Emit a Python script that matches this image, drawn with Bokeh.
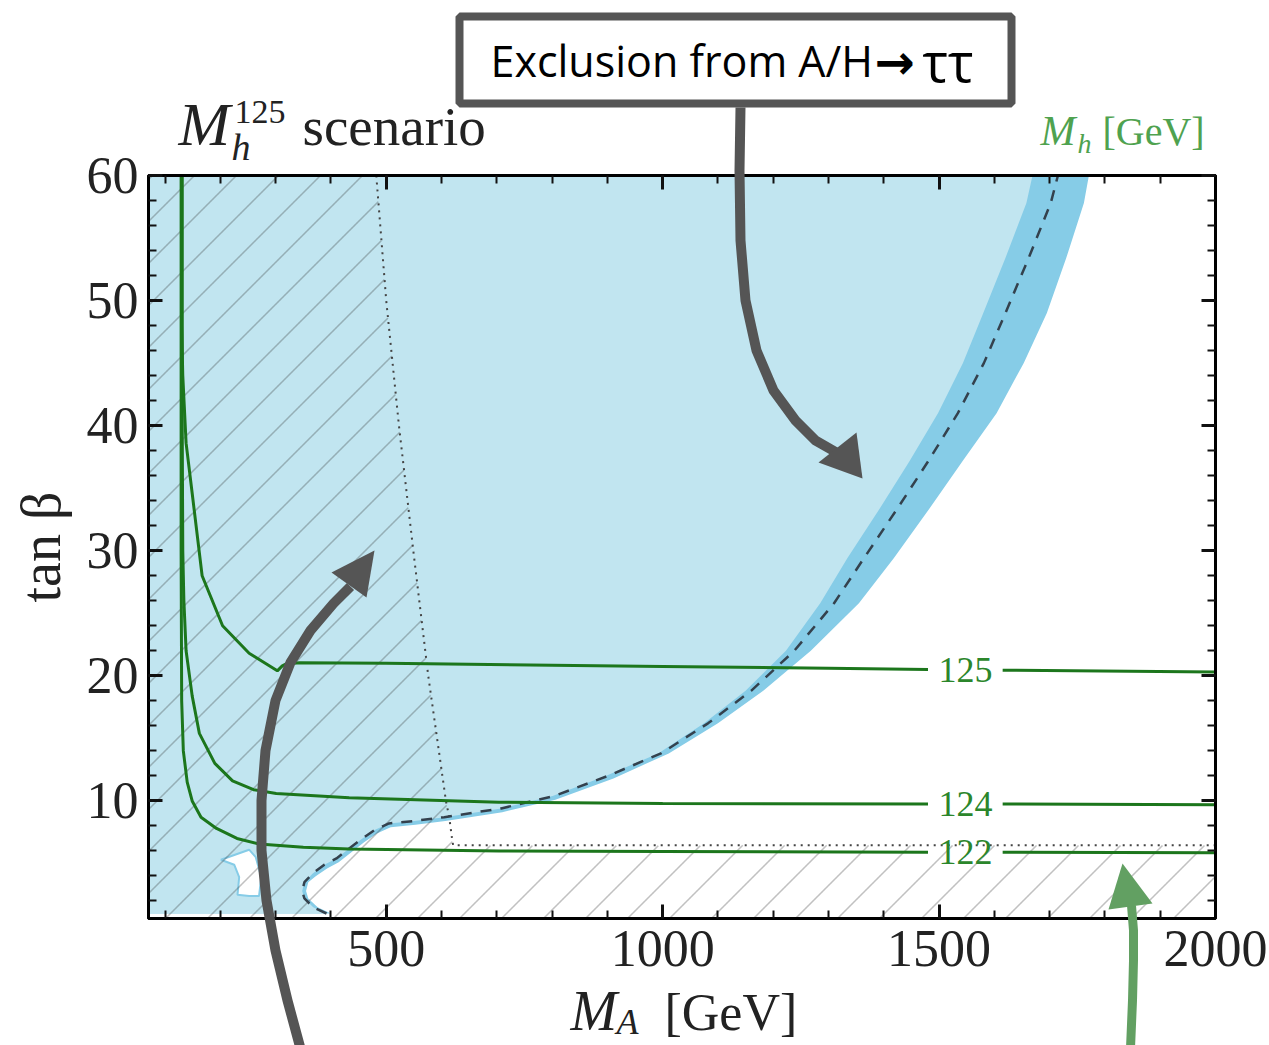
import numpy as np
from bokeh.plotting import figure
from bokeh.models import Label, LinearAxis, SingleIntervalTicker, Range1d, CustomJSTickFormatter
from bokeh.layouts import column
from bokeh.core.properties import value
from bokeh.embed import file_html
from bokeh.resources import INLINE

# ---------------- data ----------------
# observed exclusion boundary (light blue edge)
obs_ma = [392, 368, 352, 348, 352, 367, 388, 410, 433, 457, 480, 505, 551, 605, 708, 801, 897, 992,
          1075, 1150, 1223, 1285, 1334, 1393, 1447, 1498, 1543, 1580, 1620, 1658, 1669]
obs_tb = [1.0, 1.5, 2.2, 2.8, 3.5, 4.2, 4.9, 5.4, 6.2, 7.0, 7.7, 8.2, 8.4, 8.7, 9.4, 10.4, 12.0, 13.8,
          16.2, 18.8, 22.0, 25.8, 29.4, 33.4, 37.2, 41.0, 45.0, 49.0, 53.4, 57.8, 60.0]
# expected exclusion (dashed line)
exp_ma = [392, 368, 352, 348, 352, 367, 388, 410, 433, 457, 480, 505, 551, 605, 708, 804, 901, 997,
          1082, 1160, 1238, 1310, 1364, 1425, 1481, 1534, 1581, 1620, 1662, 1702, 1715]
exp_tb = obs_tb
# outer edge of the expected band (darker blue)
band_ma = [400, 376, 359, 355, 359, 373, 393, 414, 437, 460, 483, 508, 553, 607, 710, 806, 911, 1011,
           1100, 1182, 1268, 1355, 1418, 1483, 1543, 1604, 1653, 1695, 1730, 1762, 1771]
band_tb = [1.0, 1.5, 2.2, 2.8, 3.5, 4.0, 4.6, 5.1, 5.9, 6.7, 7.4, 7.9, 8.1, 8.4, 9.1, 10.1, 11.8, 13.8,
           16.2, 18.8, 22.0, 25.8, 29.4, 33.4, 37.2, 41.0, 45.0, 49.0, 53.4, 57.8, 60.0]
# small allowed island at low MA
isl_ma = [201, 252, 264, 274, 270, 252, 231, 234, 225]
isl_tb = [5.3, 6.1, 5.5, 3.9, 2.4, 2.4, 2.5, 3.9, 4.9]
# boundary of the hatched (theoretically excluded) region, dotted line
dot_ma = [482, 500, 523, 549, 576, 608, 614, 619, 621, 2000]
dot_tb = [60, 50, 40, 30, 20, 10, 8.7, 7.0, 6.45, 6.45]
# Mh contours
c125_ma = [130, 130, 132, 138, 149, 167, 204, 252, 303, 312, 319, 343, 500, 800, 1000, 1300, 1480, 1615, 2000]
c125_tb = [60, 48, 44, 38.6, 34.6, 28, 24, 21.8, 20.4, 20.8, 20.95, 21.05, 21.0, 20.85, 20.75, 20.6, 20.5, 20.45, 20.3]
c124_ma = [131, 131, 132, 134, 138, 149, 162, 190, 222, 260, 301, 433, 704, 1000, 1480, 1615, 2000]
c124_tb = [60, 40, 30, 26, 22, 18.4, 15.4, 13.0, 11.6, 10.9, 10.6, 10.25, 9.9, 9.8, 9.75, 9.75, 9.7]
c122_ma = [129, 129, 130, 133, 140, 149, 165, 193, 230, 270, 350, 433, 704, 1000, 1480, 1615, 2000]
c122_tb = [60, 30, 18, 14, 11.5, 10, 8.7, 7.8, 7.0, 6.55, 6.3, 6.15, 6.0, 5.95, 5.9, 5.9, 5.85]
contour_labels = ["125", "124", "122"]
label_ma = [1548, 1548, 1548]
label_tb = [20.5, 9.75, 5.9]
label_gap = (1485, 1611)

X0, X1, Y0, Y1 = 70, 2000, 0.6, 60
W, H = 1269, 1045
FL, FR, FT, FB = 148, 1215, 175, 918

SERIF = "Liberation Serif"
LIGHT = "#c1e5f0"
DARK = "#86cce7"
GREEN = "#1c761c"
LGREEN = "#4fa24f"
GRAY = "#555555"

p = figure(width=W, height=H, x_range=Range1d(X0, X1), y_range=Range1d(Y0, Y1),
           output_backend="svg", toolbar_location=None,
           min_border_left=FL, min_border_right=W - FR, min_border_top=FT, min_border_bottom=H - FB)
p.grid.visible = False
p.outline_line_color = "black"
p.outline_line_width = 3
p.background_fill_color = "white"
p.border_fill_color = "white"


def style_axis(a, labels=True):
    a.axis_line_color = "black"
    a.axis_line_width = 3
    a.major_tick_in = 14
    a.major_tick_out = 0
    a.minor_tick_in = 8
    a.minor_tick_out = 0
    a.major_tick_line_color = "#111111"
    a.minor_tick_line_color = "#111111"
    a.major_tick_line_width = 3
    a.minor_tick_line_width = 2
    a.major_label_text_font = SERIF
    a.major_label_text_color = "#222222"
    a.major_label_text_font_size = "52px"
    if not labels:
        a.formatter = CustomJSTickFormatter(code="return ''")
        a.major_label_standoff = 0


p.xaxis.ticker = SingleIntervalTicker(interval=500, num_minor_ticks=5)
p.yaxis.ticker = SingleIntervalTicker(interval=10, num_minor_ticks=5)
for a in p.xaxis:
    style_axis(a)
    a.major_label_standoff = 12
for a in p.yaxis:
    style_axis(a)
    a.major_label_standoff = 10
    a.axis_label = "tan β"
    a.axis_label_text_font = SERIF
    a.axis_label_text_font_style = "normal"
    a.axis_label_text_font_size = "56px"
    a.axis_label_text_color = "#222222"
    a.axis_label_standoff = 12

top = LinearAxis(ticker=SingleIntervalTicker(interval=500, num_minor_ticks=5))
style_axis(top, labels=False)
p.add_layout(top, "above")
right = LinearAxis(ticker=SingleIntervalTicker(interval=10, num_minor_ticks=5))
style_axis(right, labels=False)
p.add_layout(right, "right")

# exclusion regions
p.patch([X0] + band_ma + [X0], [obs_tb[0]] + band_tb + [Y1], fill_color=DARK, line_color=None)
p.patch([X0] + obs_ma + [X0], [obs_tb[0]] + obs_tb + [Y1], fill_color=LIGHT, line_color=None)
p.patch(isl_ma, isl_tb, fill_color="white", line_color=DARK, line_width=2)

# hatched region: 45-degree lines (in screen space) clipped to the region left of / below the dotted line
pxx = (FR - FL) / (X1 - X0)
pxy = (FB - FT) / (Y1 - Y0)
slope = pxx / pxy
step_c = 42 / pxx * slope
bd_tb = np.array(dot_tb[::-1][1:], float)
bd_ma = np.array(dot_ma[::-1][1:], float)
ms = np.linspace(X0, X1, 3000)
hx, hy = [], []
c = Y0 - slope * (X1 - X0)
while c < Y1:
    tbs = c + slope * (ms - X0)
    inside = (tbs >= Y0 - 1) & (tbs <= Y1 + 1) & ((tbs <= dot_tb[-1]) | (ms <= np.interp(tbs, bd_tb, bd_ma)))
    idx = np.flatnonzero(inside)
    if idx.size:
        runs = np.split(idx, np.flatnonzero(np.diff(idx) > 1) + 1)
        for r in runs:
            if r.size > 1:
                hx.append(list(ms[r]))
                hy.append(list(tbs[r]))
    c += step_c
p.multi_line(hx, hy, line_color="#333333", line_alpha=0.3, line_width=1.5)

# dotted boundary and dashed expected line
p.line(dot_ma, dot_tb, line_color="#444444", line_width=2, line_dash="2 5")
p.line(exp_ma, exp_tb, line_color="#34414d", line_width=2.5, line_dash="11 9")


def with_gap(xs, ys, gap):
    ox, oy = [], []
    for i, (x, y) in enumerate(zip(xs, ys)):
        if i > 0 and xs[i - 1] <= gap[0] and x >= gap[1]:
            ox.append(np.nan)
            oy.append(np.nan)
        ox.append(x)
        oy.append(y)
    return ox, oy


for cx, cy in [(c125_ma, c125_tb), (c124_ma, c124_tb), (c122_ma, c122_tb)]:
    gx, gy = with_gap(cx, cy, label_gap)
    p.line(gx, gy, line_color=GREEN, line_width=3)

p.text(x=label_ma, y=label_tb, text=contour_labels, text_font=value(SERIF), text_font_size="36px",
       text_color="#2b862b", text_align="center", text_baseline="middle")

# ---------------- overlay for texts and arrows outside the frame (page pixels) ----------------
# (its frame is aligned horizontally with the main frame by the column layout)
ov = figure(width=W, height=H, x_range=Range1d(FL, FR), y_range=Range1d(H, 0),
            output_backend="svg", toolbar_location=None, min_border=0,
            x_axis_location=None, y_axis_location=None,
            outline_line_color=None, background_fill_color=None, border_fill_color=None,
            styles={"position": "absolute", "left": "0px", "top": "0px"})
ov.title.visible = False
ov.grid.visible = False


def label(px, py, text, size, color="#222222", style="normal", font=SERIF, align="left", baseline="alphabetic"):
    s = float(size.replace("px", ""))
    y = py - 0.37 * s if baseline == "alphabetic" else py
    ov.add_layout(Label(x=px, y=y, text=text, text_font=font, text_font_size=size,
                        text_color=color, text_font_style=style, text_align=align, text_baseline=baseline))


def shaft(pts, w, color):
    pts = np.array(pts, float)
    n = len(pts)
    left, rightp = [], []
    for i in range(n):
        a = pts[max(i - 1, 0)]
        b = pts[min(i + 1, n - 1)]
        d = b - a
        d = d / np.hypot(*d)
        nrm = np.array([-d[1], d[0]])
        left.append(pts[i] + nrm * w / 2)
        rightp.append(pts[i] - nrm * w / 2)
    poly = left + rightp[::-1]
    ov.patch([q[0] for q in poly], [q[1] for q in poly], fill_color=color, line_color=None)


def head(tri, color):
    ov.patch([q[0] for q in tri], [q[1] for q in tri], fill_color=color, line_color=None)


# title
label(178, 146, "M", "62px", style="italic")
label(234, 124, "125", "34px")
label(231, 161, "h", "38px", style="italic")
label(302, 146, "scenario", "55px")
# x axis label
label(570, 1031, "M", "56px", style="italic")
label(616, 1035, "A", "36px", style="italic")
label(664, 1031, "[GeV]", "52px")
# Mh [GeV]
label(1040, 146, "M", "42px", color=LGREEN, style="italic")
label(1077, 153, "h", "28px", color=LGREEN, style="italic")
label(1102, 146, "[GeV]", "40px", color=LGREEN)

# callout box
ov.quad(left=[459], right=[1011], top=[16], bottom=[103], fill_color="white", line_color=GRAY, line_width=8)
label(490, 60, "Exclusion from A/H", "43px", color="black", font="Open Sans", baseline="middle")
label(874, 61, "→", "48px", color="black", font="DejaVu Sans", style="bold", baseline="middle")
label(922, 60, "ττ", "54px", color="black", font="Open Sans", baseline="middle")

# arrows
shaft([(740, 107), (739, 170), (740, 240), (745, 300), (756, 350), (773, 390), (795, 420), (815, 440), (836, 452)], 10, GRAY)
head([(862, 478), (818, 462), (856, 432)], GRAY)
shaft([(300, 1048), (287, 1000), (275, 950), (266, 900), (261, 850), (261, 800), (265, 750), (275, 700),
       (290, 662), (310, 630), (333, 603), (350, 586)], 10, GRAY)
head([(374, 550), (331, 572), (366, 597)], GRAY)
shaft([(1130, 1048), (1132, 1000), (1133, 960), (1133, 930), (1131, 905)], 9, "#62a062")
head([(1122, 863), (1108, 909), (1152, 903)], "#62a062")

root = column(p, ov)
open("out.html", "w").write(file_html(root, INLINE))
